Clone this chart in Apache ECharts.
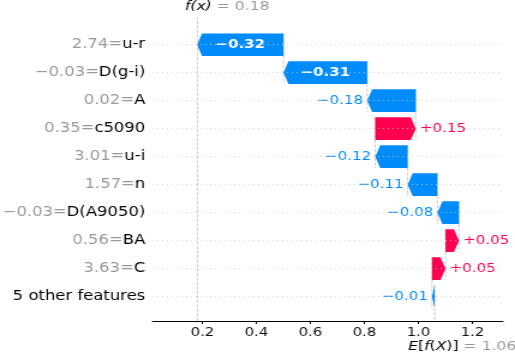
<!DOCTYPE html>
<html>
<head>
<meta charset="utf-8">
<script src="https://cdn.jsdelivr.net/npm/echarts@6/dist/echarts.min.js"></script>
<style>
html, body { margin: 0; padding: 0; background: #fff; overflow: hidden; }
/* the reference is a horizontally stretched shap plot, so draw narrower and stretch */
#chart { width: 429px; height: 357px; transform: scaleX(1.2005); transform-origin: 0 0; }
</style>
</head>
<body>
<div id="chart"></div>
<script>
var features = ['u-r', 'D(g-i)', 'A', 'c5090', 'u-i', 'n', 'D(A9050)', 'BA', 'C', '5 other features'];
var featureValues = ['2.74', '\u22120.03', '0.02', '0.35', '3.01', '1.57', '\u22120.03', '0.56', '3.63', ''];
var shapValues = [-0.32, -0.31, -0.18, 0.15, -0.12, -0.11, -0.08, 0.05, 0.05, -0.01];
var baseValue = 1.06;
var fxValue = 0.18;
var xTicks = [0.2, 0.4, 0.6, 0.8, 1.0, 1.2];

var BLUE = '#008bfb', RED = '#ff0051';
var FONT = '"DejaVu Sans", sans-serif';
var n = features.length;

// walk up from the bottom row, starting at the base value
var bars = [];
var pos = baseValue;
for (var i = n - 1; i >= 0; i--) {
    var start = pos;
    pos = pos + shapValues[i];
    bars.push([n - 1 - i, start, pos, shapValues[i]]);
}
var rowPos = bars.map(function (b) { return b[0]; });

function fmt(v) {
    return (v < 0 ? '\u2212' : '+') + Math.abs(v).toFixed(2);
}

function renderBar(params, api) {
    var p = api.value(0), start = api.value(1), end = api.value(2), v = api.value(3);
    var a = api.coord([start, p]), b = api.coord([end, p]);
    var h = api.size([0, 0.81])[1];
    var w = Math.abs(b[0] - a[0]);
    var hl = Math.min(w, api.size([0.0185, 0])[0]);
    var cy = a[1], top = cy - h / 2, bot = cy + h / 2;
    var dir = v < 0 ? -1 : 1;
    var color = v < 0 ? BLUE : RED;
    var pts = [[a[0], top], [b[0] - dir * hl, top], [b[0], cy], [b[0] - dir * hl, bot], [a[0], bot]];
    var label;
    if (w > 55) {
        label = {type: 'text', style: {x: (a[0] + b[0]) / 2, y: cy, text: fmt(v), fill: '#fff',
            font: 'bold 12.5px ' + FONT, align: 'center', verticalAlign: 'middle'}};
    } else {
        label = {type: 'text', style: {x: b[0] + dir * 3.5, y: cy, text: fmt(v), fill: color,
            font: '12.5px ' + FONT, align: v < 0 ? 'right' : 'left', verticalAlign: 'middle'}};
    }
    return {type: 'group', children: [
        {type: 'polygon', shape: {points: pts}, style: {fill: color}},
        label
    ]};
}

function renderConnector(params, api) {
    var p = api.value(0), start = api.value(1);
    var a = api.coord([start, p + 0.4]), b = api.coord([start, p - 1.4]);
    return {type: 'line', shape: {x1: a[0], y1: a[1], x2: b[0], y2: b[1]},
        style: {stroke: '#bbbbbb', lineWidth: 0.8, lineDash: [3, 1.5]}};
}

var chart = echarts.init(document.getElementById('chart'));
var option = {
    animation: false,
    grid: {left: 127, right: 10, top: 17, bottom: 36, outerBoundsMode: 'none'},
    xAxis: {
        type: 'value', min: 0.015, max: 1.313,
        splitLine: {show: false},
        axisLine: {show: true, onZero: false, lineStyle: {color: '#000', width: 1}},
        axisTick: {show: true, length: 3, customValues: xTicks, lineStyle: {color: '#000'}},
        axisLabel: {customValues: xTicks, margin: 5, color: '#111', fontSize: 12.5, fontFamily: FONT,
            formatter: function (v) { return v.toFixed(1); }}
    },
    yAxis: {
        type: 'value', min: -0.87, max: 9.99,
        splitLine: {show: false},
        axisLine: {show: false},
        axisTick: {show: false},
        axisLabel: {
            customValues: rowPos, margin: 6,
            formatter: function (p) {
                var k = n - 1 - Math.round(p);
                if (featureValues[k] === '') return '{k|' + features[k] + '}';
                return '{g|' + featureValues[k] + '=}{k|' + features[k] + '}';
            },
            rich: {
                g: {color: '#999999', fontSize: 13.7, fontFamily: FONT},
                k: {color: '#000', fontSize: 13.7, fontFamily: FONT}
            }
        }
    },
    series: [
        {
            type: 'custom', name: 'connectors', clip: true, z: 1, silent: true,
            renderItem: renderConnector,
            data: bars,
            markLine: {
                silent: true, symbol: ['none', 'none'], label: {show: false},
                data: rowPos.map(function (p) {
                    return {yAxis: p, lineStyle: {color: '#cccccc', width: 0.8, type: [1, 3]}};
                }).concat([{xAxis: fxValue, lineStyle: {color: '#c4c4c4', width: 0.8, type: [3, 1.5]}}])
            }
        },
        {
            type: 'custom', name: 'shap', z: 3,
            renderItem: renderBar,
            data: bars
        }
    ],
    graphic: [
        {type: 'text', x: 154, y: 7, style: {
            text: '{i|f(x)}{g| = ' + fxValue.toFixed(2) + '}', verticalAlign: 'middle',
            rich: {
                i: {fill: '#000', fontSize: 13, fontStyle: 'italic', fontFamily: FONT},
                g: {fill: '#999999', fontSize: 13, fontFamily: FONT}
            }}},
        {type: 'text', x: 340, y: 347, style: {
            text: '{i|E}{n|[}{i|f}{n|(}{i|X}{n|)]}{g| = ' + baseValue.toFixed(2) + '}', verticalAlign: 'middle',
            rich: {
                i: {fill: '#000', fontSize: 13, fontStyle: 'italic', fontFamily: FONT},
                n: {fill: '#000', fontSize: 13, fontFamily: FONT},
                g: {fill: '#999999', fontSize: 13, fontFamily: FONT}
            }}}
    ]
};
chart.setOption(option);
</script>
</body>
</html>
